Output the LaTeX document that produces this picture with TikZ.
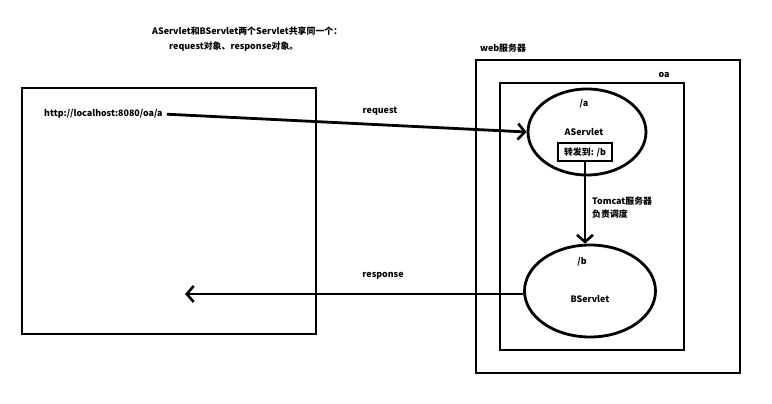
\documentclass[tikz,border=0pt]{standalone}
\usepackage{fontspec}
\setmainfont{Noto Sans CJK SC}
\usetikzlibrary{arrows.meta,shapes.geometric}
\tikzset{
  thick line/.style={line width=2.8pt},
  lbl/.style={font=\fontsize{8.9}{10}\selectfont\bfseries, inner sep=0pt},
  servlet/.style={ellipse, draw, thick line, inner sep=0pt},
  barb/.style={thick line, -{Straight Barb[length=7pt,width=16pt,line width=2.6pt]}}
}
\begin{document}
\begin{tikzpicture}[x=1pt,y=-1pt]
		\useasboundingbox (0,0) rectangle (772,404);
		% note at the top
		\node[lbl, anchor=west] (note1) at (152,31) {AServlet和BServlet两个Servlet共享同一个：};
		\node[lbl, anchor=west] (note2) at (169,47) {request对象、response对象。};
		% browser
		\draw[thick line] (22,88) rectangle (316,334);
		\node[lbl, anchor=west] (url) at (44,114) {http://localhost:8080/oa/a};
		% web server and oa
		\draw[thick line] (476,60) rectangle (740,373);
		\node[lbl, anchor=west] (web) at (480,48) {web服务器};
		\draw[thick line] (500,83) rectangle (684,350);
		\node[lbl] (oa) at (664,75) {oa};
		% servlets
		\node[servlet, minimum width=118, minimum height=86] (aserv) at (587,132) {};
		\node[lbl] (apath) at (584,104) {/a};
		\node[lbl] (aname) at (584,132) {AServlet};
		\node[draw, thick line, lbl, minimum width=54, minimum height=18] (fwd) at (585,152) {转发到: /b};
		\node[servlet, minimum width=131, minimum height=92] (bserv) at (590,291) {};
		\node[lbl] (bpath) at (582,262) {/b};
		\node[lbl] (bname) at (590,299) {BServlet};
		\node[lbl, anchor=west, align=left] (tomcat) at (592,208) {Tomcat服务器\\[3pt]负责调度};
		% request / forward / response
		\draw[barb, shorten <=4pt] (url.east) -- (aserv.west);
		\node[lbl] (req) at (380,111) {request};
		\draw[barb] (fwd.south) -- (fwd.south |- bserv.north);
		\coordinate (back) at (185,294);
		\draw[barb] (bserv.west |- back) -- (back);
		\node[lbl] (resp) at (383,276) {response};
		\end{tikzpicture}
\end{document}
